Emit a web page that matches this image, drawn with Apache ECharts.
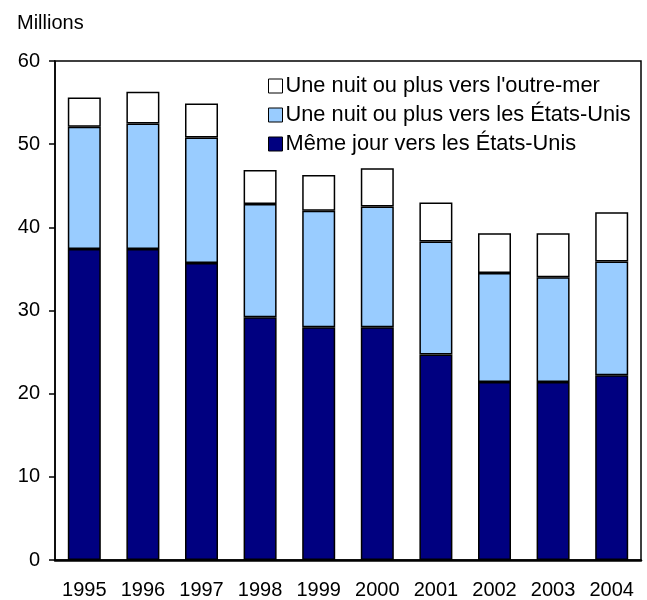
<!DOCTYPE html>
<html>
<head>
<meta charset="utf-8">
<script src="https://cdn.jsdelivr.net/npm/echarts@6/dist/echarts.min.js"></script>
<style>
  html, body { margin: 0; padding: 0; background: #fff; }
  #chart { width: 647px; height: 600px; }
</style>
</head>
<body>
<div id="chart"></div>
<script>
var years = ['1995', '1996', '1997', '1998', '1999', '2000', '2001', '2002', '2003', '2004'];
// millions de voyages
var memeJour = [37.4, 37.4, 35.7, 29.2, 28.0, 28.0, 24.7, 21.4, 21.4, 22.2];
var nuitEU = [14.7, 15.1, 15.1, 13.6, 14.0, 14.5, 13.6, 13.1, 12.6, 13.7];
var nuitOutreMer = [3.5, 3.8, 4.1, 4.1, 4.3, 4.6, 4.7, 4.8, 5.3, 5.9];
var yTicks = [0, 10, 20, 30, 40, 50, 60];

var names = ['Même jour vers les États-Unis', 'Une nuit ou plus vers les États-Unis', "Une nuit ou plus vers l'outre-mer"];
var colors = ['#000080', '#99ccff', '#ffffff'];
var font = 'Arial, "Liberation Sans", Helvetica, sans-serif';

var myChart = echarts.init(document.getElementById('chart'));

function barSeries(i, data) {
  return {
    name: names[i],
    type: 'bar',
    stack: 'total',
    barWidth: 33,
    data: data,
    itemStyle: { color: colors[i], borderColor: '#000', borderWidth: 1.5 }
  };
}

var option = {
  animation: false,
  textStyle: { fontFamily: font, color: '#000' },
  title: {
    text: 'Millions',
    left: 12,
    top: 8,
    textStyle: { fontFamily: font, fontSize: 20, fontWeight: 'normal', color: '#000' }
  },
  legend: {
    orient: 'vertical',
    left: 263,
    top: 70,
    itemWidth: 14,
    itemHeight: 14,
    itemGap: 7,
    icon: 'rect',
    data: [names[2], names[1], names[0]],
    textStyle: { fontFamily: font, fontSize: 21.8, color: '#000', lineHeight: 20, padding: [0, 0, 0, -2] },
    itemStyle: { borderColor: '#000', borderWidth: 1 }
  },
  grid: {
    left: 55, right: 6, top: 61, bottom: 37,
    show: true, borderColor: '#000', borderWidth: 1.5, backgroundColor: 'transparent'
  },
  xAxis: {
    type: 'category',
    data: years,
    axisLine: { lineStyle: { color: '#000', width: 2.5 } },
    axisTick: { show: false },
    axisLabel: { color: '#000', fontSize: 20, fontFamily: font, margin: 20 }
  },
  yAxis: {
    type: 'value',
    min: yTicks[0],
    max: yTicks[yTicks.length - 1],
    interval: 10,
    axisLine: { show: true, lineStyle: { color: '#000', width: 1.5 } },
    axisTick: { show: true, length: 6, lineStyle: { color: '#000', width: 1.5 } },
    splitLine: { show: false },
    axisLabel: { color: '#000', fontSize: 20, fontFamily: font, margin: 15 }
  },
  series: [
    barSeries(0, memeJour),
    barSeries(1, nuitEU),
    barSeries(2, nuitOutreMer)
  ]
};

myChart.setOption(option);
</script>
</body>
</html>
